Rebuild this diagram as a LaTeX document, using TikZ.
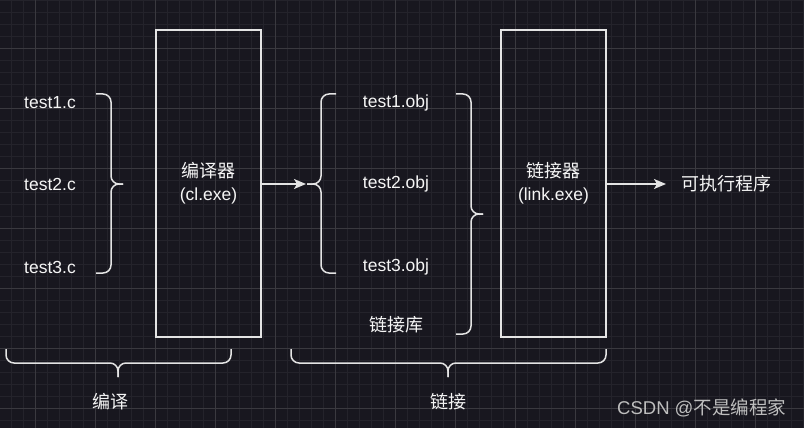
\documentclass[tikz,border=0pt]{standalone}
\usepackage{fontspec}
\setmainfont{Liberation Sans}
\newfontfamily\cjk{Noto Sans CJK SC}
\usetikzlibrary{arrows.meta}
\definecolor{bg}{RGB}{24,23,31}
\definecolor{gridmajor}{RGB}{58,57,63}
\definecolor{gridminor}{RGB}{36,35,43}
\definecolor{ink}{RGB}{228,228,228}
\definecolor{txt}{RGB}{245,245,245}
\definecolor{wm}{RGB}{190,190,190}
\tikzset{
  box/.style={draw=ink, line width=1.5pt, minimum width=105pt, minimum height=307pt, inner sep=0pt, text=txt, align=center, font=\fontsize{17.5}{23}\selectfont},
  lbl/.style={text=txt, inner sep=0pt, font=\fontsize{17.5}{21}\selectfont},
  brace/.style={draw=ink, line width=1.5pt, rounded corners=8pt},
  conn/.style={draw=ink, line width=1.5pt, -{Stealth[length=12pt,width=10pt,inset=3pt]}},
}
\begin{document}
\begin{tikzpicture}[x=1pt,y=-1pt]
\fill[bg] (0,0) rectangle (804,428);
\useasboundingbox (0,0) rectangle (804,428);
% minor grid
\foreach \i in {0,...,67} {\draw[gridminor, line width=0.8pt] (11.5+\i*12,0) -- (11.5+\i*12,428);}
\foreach \j in {0,...,36} {\draw[gridminor, line width=0.8pt] (0,\j*12) -- (804,\j*12);}
% major grid
\foreach \i in {0,...,13} {\draw[gridmajor, line width=0.9pt] (35.5+\i*60,0) -- (35.5+\i*60,428);}
\foreach \j in {0,...,7} {\draw[gridmajor, line width=0.9pt] (0,48+\j*60) -- (804,48+\j*60);}

% source files
\node[lbl] (t1) at (50,103) {test1.c};
\node[lbl] (t2) at (50,184) {test2.c};
\node[lbl] (t3) at (50,267) {test3.c};

% brace 1 (opening right)
\draw[brace] (96,94) -- (111,94) -- (111,184) -- (123,184);
\draw[brace] (96,273) -- (111,273) -- (111,184) -- (123,184);

% compiler box
\node[box] (cl) at (208.5,183.5) {{\cjk\fontsize{18}{23}\selectfont 编译器}\\(cl.exe)};

% brace 2 (opening left)
\coordinate (b2tip) at (306,184);
\draw[brace] (336,94) -- (321,94) -- (321,184) -- (307,184);
\draw[brace] (336,273) -- (321,273) -- (321,184) -- (307,184);
\draw[conn] (cl.east |- b2tip) -- (b2tip);

% obj files
\node[lbl] (o1) at (396,103) {test1.obj};
\node[lbl] (o2) at (396,184) {test2.obj};
\node[lbl] (o3) at (396,267) {test3.obj};
\node[lbl] (lib) at (396,325) {\cjk\fontsize{18}{21}\selectfont 链接库};

% brace 3 (opening right)
\draw[brace] (456,94) -- (471,94) -- (471,214) -- (483,214);
\draw[brace] (456,334) -- (471,334) -- (471,214) -- (483,214);

% linker box
\node[box] (link) at (553.5,183.5) {{\cjk\fontsize{18}{23}\selectfont 链接器}\\(link.exe)};

% output
\node[lbl, anchor=west] (exe) at (681,184) {\cjk\fontsize{18}{21}\selectfont 可执行程序};
\coordinate (exetip) at (666,184);
\draw[conn] (link.east |- exetip) -- (exetip);

% bottom braces
\draw[brace] (6,349) -- (6,363) -- (118,363) -- (118,377);
\draw[brace] (231,349) -- (231,363) -- (118,363) -- (118,377);
\node[lbl] (bian) at (110,402) {\cjk\fontsize{18}{21}\selectfont 编译};

\draw[brace] (291,349) -- (291,363) -- (448,363) -- (448,377);
\draw[brace] (606,349) -- (606,363) -- (448,363) -- (448,377);
\node[lbl] (lian) at (448,402) {\cjk\fontsize{18}{21}\selectfont 链接};

% watermark
\node[text=wm, inner sep=0pt, font=\fontsize{18.5}{22}\selectfont, anchor=west] (wmk) at (617,408) {CSDN @{\cjk 不是编程家}};
\end{tikzpicture}
\end{document}
